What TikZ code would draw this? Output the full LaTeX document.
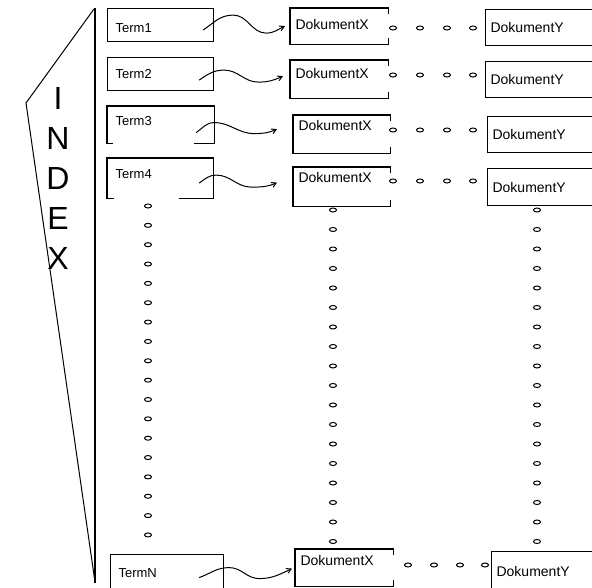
\documentclass[tikz,border=0pt]{standalone}
\usepackage{fontspec}
\setmainfont{Liberation Sans}
\usetikzlibrary{arrows,positioning}

\begin{document}
\begin{tikzpicture}[x=1pt,y=1pt,
	boxline/.style={line width=1.2pt},
	termbox/.style={boxline,inner xsep=8pt,inner ysep=0pt,text width=90pt,minimum height=33pt,align=left,font=\fontsize{13}{15}\selectfont,text height=9.5pt,text depth=0pt},
	dokbox/.style={boxline,inner xsep=5pt,inner ysep=0pt,text width=87pt,minimum height=36pt,align=left,font=\fontsize{14}{16}\selectfont,text height=10pt,text depth=0pt},
	wave/.style={->,>=angle 60,line width=1pt},
	ringdot/.style={line width=1pt}]
			\useasboundingbox(0,0) rectangle (592,587);
			\clip(0,0) rectangle (592,587);
			\draw[boxline](95,579)--(95,4);
			\draw[line width=1pt](94,578)--(26,484)--(95,5);
			\node at (58,500) [anchor=north,inner sep=0pt,align=center,font=\fontsize{32}{40}\selectfont] (index) {I\\N\\D\\E\\X};
			\node at (107,579) [termbox,draw,text height=14.5pt,anchor=north west] (t1) {Term1};
			\node at (107,530) [termbox,draw,anchor=north west] (t2) {Term2};
			\node at (107,481) [termbox,minimum height=36pt,text depth=7pt,anchor=north west] (t3) {Term3};
			\node at (107,429) [termbox,text width=89pt,minimum height=39pt,text depth=9pt,anchor=north west] (t4) {Term4};
			\node at (110,33) [termbox,draw,text width=97pt,minimum height=36pt,anchor=north west] (tN) {TermN};
			\node at (290,579) [dokbox,minimum height=35pt,text depth=3pt,anchor=north west] (x1) {DokumentX};
			\node at (290,527) [dokbox,minimum height=37pt,text depth=11pt,anchor=north west] (x2) {DokumentX};
			\node at (293,472) [dokbox,text width=86pt,minimum height=37pt,text depth=17pt,anchor=north west] (x3) {DokumentX};
			\node at (293,420) [dokbox,text width=86pt,minimum height=38pt,text depth=18pt,anchor=north west] (x4) {DokumentX};
			\node at (295,38) [dokbox,text depth=14pt,anchor=north west] (xN) {DokumentX};
			\node at (485,578) [dokbox,draw,text width=105pt,anchor=north west] (y1) {DokumentY};
			\node at (485,526) [dokbox,draw,text width=105pt,anchor=north west] (y2) {DokumentY};
			\node at (487,471) [dokbox,draw,text width=103pt,anchor=north west] (y3) {DokumentY};
			\node at (487,419) [dokbox,draw,text width=103pt,minimum height=37pt,anchor=north west] (y4) {DokumentY};
			\node at (491,36) [dokbox,draw,text width=99pt,minimum height=39pt,anchor=north west] (yN) {DokumentY};
			\draw[boxline]([xshift=6pt]t3.south west)--(t3.south west)--(t3.north west)--(t3.north east)--(t3.south east)--([xshift=-20pt]t3.south east);
			\draw[boxline]([xshift=7pt]t4.south west)--(t4.south west)--(t4.north west)--(t4.north east)--(t4.south east)--([xshift=-34pt]t4.south east);
			\foreach \n in {x1,x2,x3,x4,xN}
				\draw[boxline]([yshift=-6pt]\n.north east)--(\n.north east)--(\n.north west)--(\n.south west)--(\n.south east)--([yshift=6pt]\n.south east);
			\draw[wave]([xshift=-11pt,yshift=-5pt]t1.east) to[out=35,in=180] ++(30,15) to[out=0,in=180] ++(33,-18) to[out=0,in=205] ([xshift=-5pt]x1.west);
			\draw[wave]([xshift=-15pt,yshift=-6pt]t2.east) to[out=35,in=180] ++(25,10) to[out=0,in=180] ++(34,-12) to[out=0,in=205] ([xshift=-7pt,yshift=3pt]x2.west);
			\draw[wave]([xshift=-18pt,yshift=-8pt]t3.east) to[out=35,in=180] ++(18,10) to[out=0,in=180] ++(40,-11) to[out=0,in=205] ([xshift=-16pt,yshift=5pt]x3.west);
			\draw[wave]([xshift=-14pt,yshift=-5pt]t4.east) to[out=35,in=180] ++(17,8) to[out=0,in=180] ++(35,-12) to[out=0,in=205] ([xshift=-16pt,yshift=4pt]x4.west);
			\draw[wave]([xshift=-25pt,yshift=-5pt]tN.east) to[out=20,in=180] ++(30,10) to[out=0,in=180] ++(30,-11) to[out=0,in=205] ([xshift=-3pt,yshift=-1pt]xN.west);
			\foreach \y in {559,512,457,406}
				\foreach \x in {393,420,447,473}
					\draw[ringdot](\x,\y) ellipse (3.5 and 2);
			\foreach \x in {408,434,460,485}
				\draw[ringdot](\x,22) ellipse (3.5 and 2);
			\foreach \i in {0,...,17}{
				\draw[ringdot](148,381-19.35*\i) ellipse (3.5 and 2);
				\draw[ringdot](333,377-19.5*\i) ellipse (3.5 and 2);
				\draw[ringdot](537,377-19.5*\i) ellipse (3.5 and 2);
			}
		\end{tikzpicture}
\end{document}
